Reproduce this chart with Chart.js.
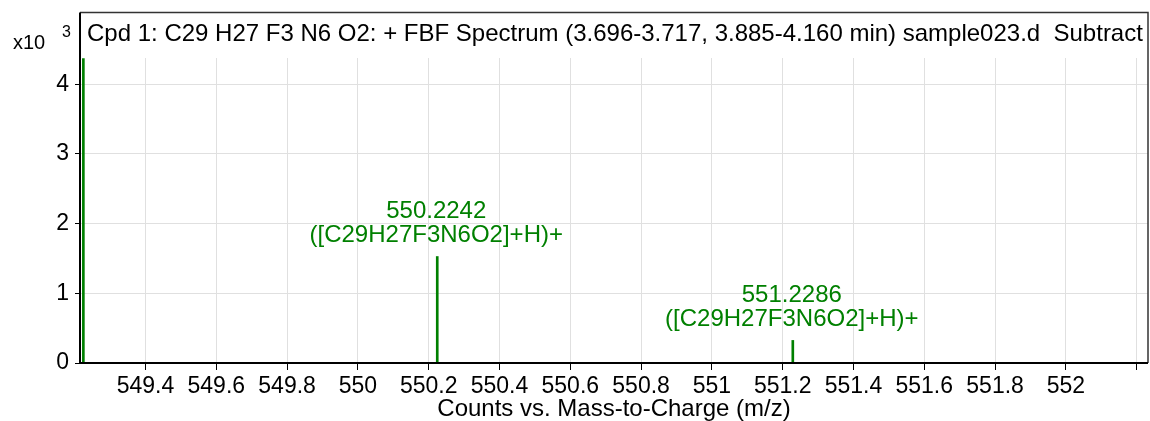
<!DOCTYPE html>
<html>
<head>
<meta charset="utf-8">
<script src="https://cdn.jsdelivr.net/npm/chart.js@4/dist/chart.umd.min.js"></script>
<style>
  html, body { margin: 0; padding: 0; background: #fff; }
</style>
</head>
<body>
<canvas id="spectrumChart" width="1150" height="421"></canvas>
<script>
// Spectrum data (counts in x10^3)
const peakMz = [549.2245, 550.2242, 551.2286];
const peakCounts = [4.37, 1.528, 0.324];
const peakLabels = [
    null,
    ['550.2242', '([C29H27F3N6O2]+H)+'],
    ['551.2286', '([C29H27F3N6O2]+H)+']
];

// Axis ticks
const xTicks = [549.4, 549.6, 549.8, 550, 550.2, 550.4, 550.6, 550.8, 551, 551.2, 551.4, 551.6, 551.8, 552, 552.2];
const xTickLabels = ['549.4', '549.6', '549.8', '550', '550.2', '550.4', '550.6', '550.8', '551', '551.2', '551.4', '551.6', '551.8', '552', ''];
const yTicks = [0, 1, 2, 3, 4];

const titleText = 'Cpd 1: C29 H27 F3 N6 O2: + FBF Spectrum (3.696-3.717, 3.885-4.160 min) sample023.d  Subtract';
const xAxisTitle = 'Counts vs. Mass-to-Charge (m/z)';

const FONT = "'Liberation Sans', Arial, sans-serif";
const GREEN = '#008000';

// Frame, title, exponent label and peak annotations
const decorations = {
    id: 'decorations',
    afterDraw(chart) {
        const ctx = chart.ctx;
        const area = chart.chartArea;
        const x = chart.scales.x;
        const y = chart.scales.y;
        const frameTop = 12.5;

        ctx.save();
        // plot frame
        ctx.strokeStyle = '#333';
        ctx.lineWidth = 1.5;
        ctx.beginPath();
        ctx.moveTo(area.left, frameTop);
        ctx.lineTo(area.right, frameTop);
        ctx.lineTo(area.right, area.bottom);
        ctx.stroke();
        ctx.strokeStyle = '#000';
        ctx.lineWidth = 2;
        ctx.beginPath();
        ctx.moveTo(area.left, frameTop);
        ctx.lineTo(area.left, area.bottom);
        ctx.lineTo(area.right, area.bottom);
        ctx.stroke();

        // title inside the frame
        ctx.fillStyle = '#000';
        ctx.font = '24px ' + FONT;
        ctx.textAlign = 'left';
        ctx.textBaseline = 'middle';
        ctx.fillText(titleText, area.left + 7, 34);

        // exponent label
        ctx.font = '20px ' + FONT;
        ctx.fillText('x10', 13, 43);
        ctx.font = '16px ' + FONT;
        ctx.fillText('3', 62, 33);

        // peak annotations
        ctx.fillStyle = GREEN;
        ctx.font = '24px ' + FONT;
        ctx.textAlign = 'center';
        peakLabels.forEach((lines, i) => {
            if (!lines) return;
            const px = x.getPixelForValue(peakMz[i]);
            const py = y.getPixelForValue(peakCounts[i]);
            ctx.fillText(lines[0], px - 1, py - 45);
            ctx.fillText(lines[1], px - 1, py - 21);
        });
        ctx.restore();
    }
};

const spectrumChart = new Chart(
    document.getElementById('spectrumChart'),
    {
        type: 'bar',
        data: {
            datasets: [{
                data: peakMz.map((mz, i) => ({ x: mz, y: peakCounts[i] })),
                backgroundColor: GREEN,
                barThickness: 2
            }]
        },
        plugins: [decorations],
        options: {
            responsive: false,
            animation: false,
            devicePixelRatio: 1,
            layout: {
                padding: { top: 58, right: 2, left: 0, bottom: 0 }
            },
            plugins: {
                legend: { display: false },
                tooltip: { enabled: false }
            },
            scales: {
                x: {
                    type: 'linear',
                    offset: false,
                    min: 549.215,
                    max: 552.232,
                    afterBuildTicks: (scale) => {
                        scale.ticks = xTicks.map(v => ({ value: v }));
                    },
                    afterFit: (scale) => { scale.height = 58; },
                    ticks: {
                        autoSkip: false,
                        maxRotation: 0,
                        padding: 3,
                        color: '#000',
                        font: { family: FONT, size: 23 },
                        callback: (value, index) => xTickLabels[index]
                    },
                    grid: {
                        offset: false,
                        color: '#e0e0e0',
                        tickColor: '#000',
                        tickLength: 7
                    },
                    border: { display: false },
                    title: {
                        display: true,
                        text: xAxisTitle,
                        color: '#000',
                        font: { family: FONT, size: 24, lineHeight: 1 },
                        padding: { top: 0, bottom: 0 }
                    }
                },
                y: {
                    min: 0,
                    max: 4.377,
                    afterBuildTicks: (scale) => {
                        scale.ticks = yTicks.map(v => ({ value: v }));
                    },
                    afterFit: (scale) => { scale.width = 80; },
                    ticks: {
                        padding: 6,
                        color: '#000',
                        font: { family: FONT, size: 23 }
                    },
                    grid: {
                        color: '#e0e0e0',
                        tickColor: '#000',
                        tickLength: 5
                    },
                    border: { display: false }
                }
            }
        }
    }
);
</script>
</body>
</html>
